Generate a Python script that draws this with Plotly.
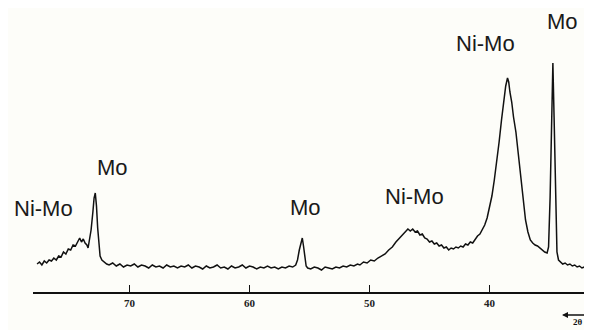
import plotly.graph_objects as go

two_theta = [
    77.7, 77.5, 77.3, 77.1, 76.9, 76.7, 76.5, 76.3, 76.1, 75.9, 75.7, 75.5, 75.3, 75.1, 74.9, 74.7,
    74.5, 74.3, 74.15, 74.0, 73.85, 73.7, 73.55, 73.45, 73.35, 73.2, 73.05, 72.95, 72.85, 72.75,
    72.65, 72.55, 72.45, 72.3, 72.1, 71.9,
    71.7, 71.4, 71.1, 70.8, 70.5, 70.2, 69.9, 69.6, 69.3, 69.0, 68.7, 68.4, 68.1, 67.8, 67.5, 67.2,
    66.9, 66.6, 66.3, 66.0, 65.7, 65.4, 65.1, 64.8, 64.5, 64.2, 63.9, 63.6, 63.3, 63.0, 62.7, 62.4,
    62.1, 61.8, 61.5, 61.2, 60.9, 60.6, 60.3, 60.0, 59.7, 59.4, 59.1, 58.8, 58.5, 58.2, 57.9, 57.6,
    57.3, 57.0, 56.7, 56.4, 56.15,
    56.0, 55.85, 55.72, 55.6, 55.5, 55.4, 55.28, 55.15,
    54.9, 54.6, 54.3, 54.0, 53.7, 53.4, 53.1, 52.8, 52.5, 52.2, 51.9, 51.6, 51.3, 51.0,
    50.8, 50.5, 50.2, 49.9, 49.6, 49.3, 49.0, 48.7, 48.4, 48.1, 47.8, 47.5, 47.2, 47.0, 46.8, 46.6,
    46.4, 46.2, 46.0, 45.8, 45.6, 45.4, 45.2, 45.0, 44.8, 44.6, 44.4, 44.2, 44.0, 43.8, 43.6, 43.4,
    43.2, 43.0, 42.8, 42.6, 42.4, 42.2, 42.0, 41.8, 41.6, 41.4, 41.2, 41.0, 40.8, 40.6, 40.4, 40.2,
    40.0, 39.8, 39.6, 39.4, 39.2, 39.0, 38.8, 38.65, 38.5, 38.4, 38.3, 38.15, 38.0, 37.8, 37.6, 37.4,
    37.2, 37.0, 36.8, 36.6, 36.4, 36.2, 36.0, 35.8, 35.6, 35.4, 35.2,
    35.08, 34.95, 34.82, 34.72, 34.62, 34.5, 34.38, 34.25,
    34.1, 33.9, 33.7, 33.5, 33.3, 33.1, 32.9, 32.7, 32.5, 32.3, 32.1, 31.9, 31.6,
]
intensity = [
    28, 30, 27, 31, 29, 32, 31, 34, 32, 36, 35, 40, 38, 43, 42, 47,
    46, 51, 54, 50, 53, 49, 47, 44, 52, 62, 80, 94, 99, 86,
    64, 45, 36, 32, 30, 28,
    27, 29, 26, 28, 25, 27, 26, 28, 25, 27, 26, 24, 27, 25, 26, 24,
    27, 25, 26, 24, 26, 25, 27, 24, 26, 25, 23, 26, 24, 25, 27, 24,
    25, 23, 26, 24, 25, 27, 24, 26, 25, 23, 25, 24, 26, 24, 25, 23,
    25, 24, 26, 25, 27,
    32, 42, 50, 54, 46, 34, 26, 24,
    23, 25, 24, 22, 25, 24, 23, 25, 24, 26, 25, 27, 26, 28,
    27, 30, 29, 32, 31, 34, 36, 38, 42, 45, 50, 54, 57, 60, 63, 61,
    63, 60, 61, 57, 58, 54, 53, 50, 51, 48, 49, 46, 47, 44, 45, 42,
    44, 43, 45, 44, 46, 45, 48, 47, 50, 49, 53, 56, 58, 62, 67, 74,
    84, 96, 112, 130, 150, 172, 192, 206, 214, 210, 200, 190, 175, 160, 138, 116,
    92, 72, 60, 52, 49, 47, 46, 44, 42, 40, 39,
    45, 95, 180, 229, 175, 90, 40, 32,
    30, 28, 29, 27, 28, 26, 27, 25, 26, 24, 25, 24, 23,
]

peak_labels = ["Ni-Mo", "Mo", "Mo", "Ni-Mo", "Ni-Mo", "Mo"]
label_theta = [77.17, 71.42, 55.37, 46.21, 40.33, 33.96]
label_intensity = [84, 125, 85, 96, 249, 271]

tick_values = [70, 60, 50, 40]
tick_labels = ["70", "60", "50", "40"]

fig = go.Figure()
fig.add_trace(go.Scatter(
    x=two_theta, y=intensity, mode="lines",
    line=dict(color="#111111", width=1.5),
    hoverinfo="skip", showlegend=False,
))

for txt, xv, yv in zip(peak_labels, label_theta, label_intensity):
    fig.add_annotation(x=xv, y=yv, text=txt, showarrow=False,
                       font=dict(family="Liberation Sans, Arial", size=22, color="#1a1a1a"),
                       xanchor="center", yanchor="middle")

# 2θ direction arrow (bottom right)
fig.add_annotation(x=33.96, y=-23 / 284, ax=30, ay=0, text="", showarrow=True,
                   arrowhead=2, arrowsize=0.8, arrowwidth=1.5, arrowcolor="#111111",
                   xref="x", yref="paper", axref="pixel", ayref="pixel")
fig.add_annotation(x=32.6, y=-24 / 284, text="<b>2θ</b>", showarrow=False,
                   xref="x", yref="paper", borderpad=0,
                   font=dict(family="Liberation Serif", size=9, color="#111111"),
                   xanchor="center", yanchor="top")

fig.update_layout(
    width=592, height=330,
    margin=dict(l=25, r=8, t=0, b=46),
    paper_bgcolor="#fdfdf9", plot_bgcolor="#fdfdf9",
    xaxis=dict(
        range=[78.04, 31.46], showgrid=False, zeroline=False,
        showline=True, linecolor="#111111", linewidth=1.5,
        ticks="inside", ticklen=7, tickwidth=1.2, tickcolor="#111111",
        tickvals=tick_values, ticktext=["<b>%s</b>" % t for t in tick_labels],
        tickfont=dict(family="Liberation Serif", size=11, color="#222222"),
    ),
    yaxis=dict(range=[0, 284], visible=False, showgrid=False, zeroline=False),
)

fig.write_html("out.html")
